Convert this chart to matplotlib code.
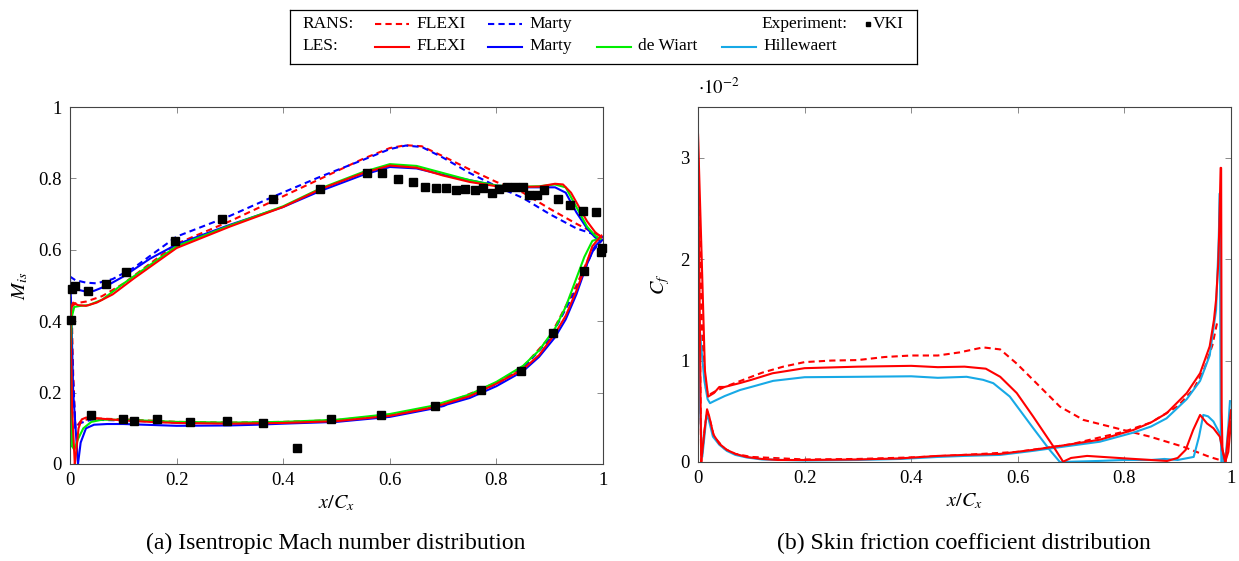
import numpy as np
import matplotlib
matplotlib.use("Agg")
import matplotlib.pyplot as plt
from matplotlib.lines import Line2D

plt.rcParams["font.family"] = "serif"
plt.rcParams["font.serif"] = ["Liberation Serif", "DejaVu Serif"]
plt.rcParams["mathtext.fontset"] = "stix"

# ──────────────────────────────────────────────
# (a) Isentropic Mach number
# ──────────────────────────────────────────────
# LES FLEXI
les_flexi_ss_x = [0.009, 0.004, 0.001, 0.002, 0.006, 0.015, 0.03, 0.05, 0.08, 0.12, 0.2, 0.3, 0.4, 0.47,
                  0.55, 0.6, 0.65, 0.7, 0.75, 0.8, 0.85, 0.88, 0.91, 0.925, 0.94, 0.955, 0.97, 0.985, 0.997]
les_flexi_ss_m = [0.0, 0.15, 0.38, 0.44, 0.452, 0.445, 0.443, 0.452, 0.475, 0.52, 0.605, 0.665, 0.72, 0.77,
                  0.815, 0.836, 0.83, 0.808, 0.79, 0.778, 0.776, 0.777, 0.785, 0.783, 0.76, 0.72, 0.68, 0.65, 0.635]
les_flexi_ps_x = [0.009, 0.012, 0.016, 0.022, 0.03, 0.05, 0.1, 0.15, 0.2, 0.3, 0.4, 0.5, 0.6, 0.68, 0.75,
                  0.8, 0.85, 0.88, 0.91, 0.93, 0.95, 0.965, 0.98, 0.997]
les_flexi_ps_m = [0.0, 0.04, 0.1, 0.125, 0.13, 0.128, 0.122, 0.118, 0.115, 0.113, 0.115, 0.12, 0.135, 0.158,
                  0.19, 0.225, 0.265, 0.305, 0.365, 0.415, 0.485, 0.545, 0.61, 0.64]
# LES Marty
les_marty_ss_x = [0.015, 0.006, 0.002, 0.001, 0.005, 0.015, 0.03, 0.045, 0.07, 0.1, 0.15, 0.2, 0.3, 0.4,
                  0.47, 0.55, 0.6, 0.65, 0.7, 0.75, 0.8, 0.85, 0.88, 0.91, 0.93, 0.95, 0.97, 0.985, 0.995]
les_marty_ss_m = [0.0, 0.2, 0.45, 0.49, 0.493, 0.488, 0.483, 0.485, 0.5, 0.525, 0.575, 0.615, 0.67, 0.72,
                  0.765, 0.81, 0.832, 0.828, 0.81, 0.795, 0.78, 0.775, 0.775, 0.775, 0.76, 0.705, 0.66, 0.635, 0.625]
les_marty_ps_x = [0.015, 0.02, 0.03, 0.045, 0.07, 0.1, 0.2, 0.3, 0.35, 0.4, 0.5, 0.6, 0.68, 0.75, 0.8,
                  0.85, 0.88, 0.91, 0.93, 0.95, 0.97, 0.985, 0.995]
les_marty_ps_m = [0.0, 0.06, 0.1, 0.11, 0.112, 0.112, 0.107, 0.108, 0.11, 0.113, 0.118, 0.132, 0.155, 0.185,
                  0.218, 0.26, 0.3, 0.355, 0.405, 0.475, 0.56, 0.61, 0.625]
# LES de Wiart
les_wiart_ss_x = [0.004, 0.002, 0.003, 0.008, 0.02, 0.035, 0.06, 0.1, 0.2, 0.3, 0.4, 0.47, 0.55, 0.6, 0.65,
                  0.7, 0.75, 0.8, 0.85, 0.88, 0.91, 0.93, 0.95, 0.97, 0.985, 0.995]
les_wiart_ss_m = [0.05, 0.3, 0.41, 0.44, 0.443, 0.445, 0.46, 0.505, 0.61, 0.668, 0.722, 0.772, 0.818, 0.84,
                  0.835, 0.815, 0.795, 0.78, 0.777, 0.778, 0.783, 0.775, 0.72, 0.665, 0.64, 0.63]
les_wiart_ps_x = [0.004, 0.008, 0.015, 0.025, 0.04, 0.06, 0.1, 0.2, 0.3, 0.4, 0.5, 0.6, 0.68, 0.75, 0.8,
                  0.85, 0.88, 0.91, 0.93, 0.95, 0.965, 0.98, 0.995]
les_wiart_ps_m = [0.05, 0.04, 0.07, 0.1, 0.118, 0.124, 0.124, 0.118, 0.116, 0.118, 0.124, 0.14, 0.163, 0.195,
                  0.23, 0.275, 0.318, 0.38, 0.44, 0.52, 0.58, 0.625, 0.632]
# RANS FLEXI
rans_flexi_ss_x = [0.003, 0.01, 0.03, 0.06, 0.1, 0.2, 0.3, 0.4, 0.5, 0.55, 0.6, 0.63, 0.66, 0.7, 0.75, 0.8,
                   0.85, 0.9, 0.95, 1.0]
rans_flexi_ss_m = [0.44, 0.45, 0.455, 0.47, 0.505, 0.617, 0.68, 0.75, 0.82, 0.855, 0.885, 0.893, 0.89, 0.862,
                   0.825, 0.79, 0.76, 0.715, 0.673, 0.635]
rans_flexi_ps_x = [0.003, 0.006, 0.01, 0.02, 0.04, 0.1, 0.2, 0.3, 0.4, 0.5, 0.6, 0.7, 0.8, 0.85, 0.9, 0.95,
                   0.98, 1.0]
rans_flexi_ps_m = [0.44, 0.25, 0.1, 0.12, 0.128, 0.125, 0.118, 0.116, 0.118, 0.123, 0.137, 0.165, 0.228,
                   0.272, 0.355, 0.5, 0.6, 0.63]
# RANS Marty
rans_marty_ss_x = [0.0, 0.01, 0.03, 0.05, 0.08, 0.12, 0.2, 0.3, 0.38, 0.47, 0.55, 0.6, 0.63, 0.66, 0.7, 0.75,
                   0.8, 0.85, 0.9, 0.95, 1.0]
rans_marty_ss_m = [0.525, 0.515, 0.508, 0.506, 0.518, 0.55, 0.637, 0.695, 0.748, 0.805, 0.852, 0.882, 0.892,
                   0.888, 0.858, 0.815, 0.778, 0.745, 0.7, 0.66, 0.635]
rans_marty_ps_x = [0.0, 0.004, 0.01, 0.02, 0.04, 0.1, 0.2, 0.3, 0.4, 0.5, 0.6, 0.7, 0.8, 0.85, 0.9, 0.95,
                   0.98, 1.0]
rans_marty_ps_m = [0.525, 0.3, 0.1, 0.115, 0.124, 0.122, 0.116, 0.114, 0.116, 0.121, 0.135, 0.162, 0.224,
                   0.268, 0.35, 0.49, 0.595, 0.63]
# VKI experiment
vki_x = [0.0015, 0.003, 0.009, 0.034, 0.068, 0.106, 0.197, 0.286, 0.38, 0.469, 0.557, 0.586, 0.615, 0.643,
         0.666, 0.687, 0.705, 0.725, 0.742, 0.759, 0.775, 0.791, 0.805, 0.82, 0.835, 0.85, 0.862, 0.877,
         0.89, 0.916, 0.939, 0.963, 0.987,
         0.04, 0.1, 0.12, 0.163, 0.226, 0.294, 0.363, 0.426, 0.489, 0.583, 0.684, 0.772, 0.846, 0.907,
         0.965, 0.998, 0.997]
vki_m = [0.402, 0.49, 0.5, 0.485, 0.503, 0.537, 0.625, 0.686, 0.742, 0.77, 0.816, 0.814, 0.798, 0.789,
         0.777, 0.773, 0.773, 0.768, 0.77, 0.768, 0.774, 0.758, 0.769, 0.775, 0.775, 0.775, 0.753, 0.753,
         0.767, 0.743, 0.726, 0.709, 0.707,
         0.136, 0.126, 0.12, 0.126, 0.117, 0.121, 0.116, 0.045, 0.126, 0.138, 0.162, 0.208, 0.26, 0.367,
         0.541, 0.604, 0.594]

# ──────────────────────────────────────────────
# (b) Skin friction coefficient (x 1e-2)
# ──────────────────────────────────────────────
cf_les_a_x = [0.0, 0.007, 0.013, 0.019, 0.03, 0.04, 0.05, 0.08, 0.1, 0.14, 0.2, 0.3, 0.4, 0.45, 0.5, 0.54,
              0.567, 0.598, 0.629, 0.667, 0.685, 0.7, 0.73, 0.8, 0.88, 0.9, 0.915, 0.929, 0.942, 0.955,
              0.967, 0.979, 0.985, 0.99, 0.995, 1.0]
cf_les_a = [3.23, 2.0, 0.9, 0.645, 0.68, 0.74, 0.74, 0.78, 0.81, 0.875, 0.925, 0.94, 0.948, 0.935, 0.94,
            0.92, 0.84, 0.68, 0.447, 0.151, 0.003, 0.04, 0.06, 0.036, 0.01, 0.04, 0.12, 0.316, 0.464, 0.38,
            0.333, 0.25, 0.1, 0.0, 0.3, 0.51]
cf_les_b_x = [0.0, 0.003, 0.006, 0.012, 0.017, 0.021, 0.029, 0.04, 0.054, 0.07, 0.091, 0.12, 0.15, 0.2, 0.3,
              0.38, 0.45, 0.5, 0.567, 0.629, 0.691, 0.754, 0.817, 0.85, 0.879, 0.917, 0.942, 0.96, 0.968,
              0.972, 0.976, 0.978, 0.9805, 0.9815, 0.9825, 0.984, 0.989, 0.995, 1.0]
cf_les_b = [3.23, 1.6, 0.0, 0.3, 0.52, 0.45, 0.27, 0.18, 0.12, 0.08, 0.05, 0.03, 0.02, 0.02, 0.025, 0.036,
            0.06, 0.07, 0.08, 0.12, 0.168, 0.22, 0.316, 0.39, 0.48, 0.68, 0.875, 1.14, 1.4, 1.6, 1.95, 2.3,
            2.9, 2.9, 0.5, 0.12, 0.0, 0.1, 0.4]
cf_rans_a_x = [0.0, 0.008, 0.015, 0.02, 0.03, 0.05, 0.08, 0.12, 0.16, 0.2, 0.25, 0.3, 0.35, 0.4, 0.45, 0.49,
               0.535, 0.567, 0.598, 0.642, 0.679, 0.723, 0.785, 0.848, 0.91, 0.96, 0.985]
cf_rans_a = [3.0, 1.2, 0.72, 0.66, 0.69, 0.74, 0.8, 0.88, 0.94, 0.985, 1.0, 1.005, 1.035, 1.05, 1.05, 1.08,
             1.13, 1.11, 0.97, 0.74, 0.546, 0.415, 0.333, 0.25, 0.151, 0.05, 0.01]
cf_rans_b_x = [0.0, 0.003, 0.006, 0.012, 0.017, 0.022, 0.03, 0.05, 0.07, 0.1, 0.2, 0.3, 0.4, 0.5, 0.6, 0.7,
               0.8, 0.85, 0.9, 0.93, 0.95, 0.965, 0.975]
cf_rans_b = [3.0, 1.5, 0.0, 0.3, 0.5, 0.42, 0.25, 0.13, 0.08, 0.05, 0.025, 0.03, 0.045, 0.07, 0.1, 0.175,
             0.3, 0.39, 0.55, 0.72, 0.92, 1.15, 1.4]
cf_hil_a_x = [0.0, 0.005, 0.012, 0.018, 0.0225, 0.03, 0.05, 0.079, 0.1, 0.141, 0.2, 0.3, 0.4, 0.45, 0.504,
              0.535, 0.554, 0.585, 0.629, 0.66, 0.679, 0.75, 0.8, 0.85, 0.875, 0.9, 0.93, 0.94, 0.948, 0.957,
              0.967, 0.979, 0.983, 0.986, 0.99, 0.995, 0.998]
cf_hil_a = [1.55, 1.2, 0.8, 0.62, 0.58, 0.6, 0.65, 0.71, 0.74, 0.8, 0.836, 0.84, 0.845, 0.83, 0.84, 0.81,
            0.777, 0.645, 0.333, 0.118, 0.0, 0.01, 0.02, 0.02, 0.03, 0.02, 0.05, 0.25, 0.464, 0.45, 0.4,
            0.28, 0.1, 0.0, 0.05, 0.35, 0.6]
cf_hil_b_x = [0.0, 0.004, 0.008, 0.012, 0.016, 0.02, 0.028, 0.04, 0.054, 0.07, 0.091, 0.12, 0.2, 0.3, 0.38,
              0.45, 0.5, 0.567, 0.629, 0.691, 0.754, 0.817, 0.85, 0.879, 0.917, 0.942, 0.96, 0.972, 0.977,
              0.979, 0.9805, 0.982]
cf_hil_b = [1.5, 0.5, 0.05, 0.25, 0.46, 0.42, 0.25, 0.17, 0.11, 0.07, 0.045, 0.025, 0.015, 0.02, 0.03,
            0.05, 0.06, 0.07, 0.11, 0.155, 0.2, 0.29, 0.35, 0.43, 0.62, 0.8, 1.05, 1.5, 2.2, 2.65, 0.5, 0.0]

ticks_x = [0, 0.2, 0.4, 0.6, 0.8, 1]
ticks_m = [0, 0.2, 0.4, 0.6, 0.8, 1]
ticks_cf = [0, 1, 2, 3]

RED, BLUE, GREEN, CYAN = "#ff0000", "#0000ff", "#00ee00", "#17a9e6"
LW = 1.5
FS = 13.5
W, H = 1239, 561


def style_axes(ax):
    for sp in ax.spines.values():
        sp.set_color("#444444")
        sp.set_linewidth(0.8)
    ax.tick_params(direction="in", length=4, width=0.6, color="#777777",
                   top=True, right=True, labelsize=FS, pad=6)


def fmt(v):
    return f"{v:g}"


def dash(ls):
    return (3, 2) if ls == "--" else (None, None)


fig = plt.figure(figsize=(W / 100, H / 100), dpi=100)

# ── (a) ─────────────────────────────────────
ax1 = fig.add_axes([70 / W, 1 - 464 / H, 533 / W, 357 / H])
for xs, ys, c, ls in [
    (rans_flexi_ss_x, rans_flexi_ss_m, RED, "--"), (rans_flexi_ps_x, rans_flexi_ps_m, RED, "--"),
    (rans_marty_ss_x, rans_marty_ss_m, BLUE, "--"), (rans_marty_ps_x, rans_marty_ps_m, BLUE, "--"),
    (les_marty_ss_x, les_marty_ss_m, BLUE, "-"), (les_marty_ps_x, les_marty_ps_m, BLUE, "-"),
    (les_wiart_ss_x, les_wiart_ss_m, GREEN, "-"), (les_wiart_ps_x, les_wiart_ps_m, GREEN, "-"),
    (les_flexi_ss_x, les_flexi_ss_m, RED, "-"), (les_flexi_ps_x, les_flexi_ps_m, RED, "-"),
]:
    ax1.plot(xs, ys, color=c, ls=ls, lw=LW, dashes=dash(ls))
ax1.plot(vki_x, vki_m, "s", color="black", ms=5.5, ls="none", zorder=5, clip_on=False)
ax1.set_xlim(0, 1)
ax1.set_ylim(0, 1)
ax1.set_xticks(ticks_x, [fmt(v) for v in ticks_x])
ax1.set_yticks(ticks_m, [fmt(v) for v in ticks_m])
ax1.set_xlabel(r"$x/C_x$", fontsize=FS + 1, labelpad=3)
ax1.set_ylabel(r"$M_{is}$", fontsize=FS + 1, labelpad=6)
style_axes(ax1)

# ── (b) ─────────────────────────────────────
ax2 = fig.add_axes([698 / W, 1 - 462 / H, 533 / W, 355 / H])
for xs, ys, c, ls in [
    (cf_rans_a_x, cf_rans_a, RED, "--"), (cf_rans_b_x, cf_rans_b, RED, "--"),
    (cf_hil_a_x, cf_hil_a, CYAN, "-"), (cf_hil_b_x, cf_hil_b, CYAN, "-"),
    (cf_les_a_x, cf_les_a, RED, "-"), (cf_les_b_x, cf_les_b, RED, "-"),
]:
    ax2.plot(xs, ys, color=c, ls=ls, lw=LW, dashes=dash(ls))
ax2.set_xlim(0, 1)
ax2.set_ylim(0, 3.5)
ax2.set_xticks(ticks_x, [fmt(v) for v in ticks_x])
ax2.set_yticks(ticks_cf, [fmt(v) for v in ticks_cf])
ax2.set_xlabel(r"$x/C_x$", fontsize=FS + 1, labelpad=3)
ax2.set_ylabel(r"$C_f$", fontsize=FS + 1, labelpad=6)
ax2.text(0.0, 1.025, r"$\cdot 10^{-2}$", transform=ax2.transAxes, fontsize=FS, ha="left", va="bottom")
style_axes(ax2)

# ── captions ────────────────────────────────
fig.text(336 / W, 1 - 543 / H, "(a) Isentropic Mach number distribution", fontsize=17,
         ha="center", va="center")
fig.text(964 / W, 1 - 543 / H, "(b) Skin friction coefficient distribution", fontsize=17,
         ha="center", va="center")

# ── legend box (drawn in its own pixel-unit axes) ──
lax = fig.add_axes([290 / W, 1 - 63.5 / H, 627 / W, 54 / H])
lax.set_xlim(290, 917)
lax.set_ylim(63.5, 9.5)
lax.set_xticks([])
lax.set_yticks([])
for sp in lax.spines.values():
    sp.set_color("black")
    sp.set_linewidth(0.9)

LFS = 12.5
legend_rows = [
    ("RANS:", [("FLEXI", RED, "--", 375), ("Marty", BLUE, "--", 488)]),
    ("LES:", [("FLEXI", RED, "-", 375), ("Marty", BLUE, "-", 488),
              ("de Wiart", GREEN, "-", 597), ("Hillewaert", CYAN, "-", 722)]),
]
for row, (head, entries) in enumerate(legend_rows):
    y = 24 + row * 22.5
    lax.text(302, y, head, fontsize=LFS, ha="left", va="center")
    for label, c, ls, x0 in entries:
        lax.add_line(Line2D([x0, x0 + 34], [y, y], color=c, lw=LW, ls=ls, dashes=dash(ls)))
        lax.text(x0 + 41, y, label, fontsize=LFS, ha="left", va="center")
lax.text(761, 24, "Experiment:", fontsize=LFS, ha="left", va="center")
lax.plot([868], [24], "s", color="black", ms=3.5)
lax.text(873, 24, "VKI", fontsize=LFS, ha="left", va="center")

fig.savefig("out.png", dpi=100)
